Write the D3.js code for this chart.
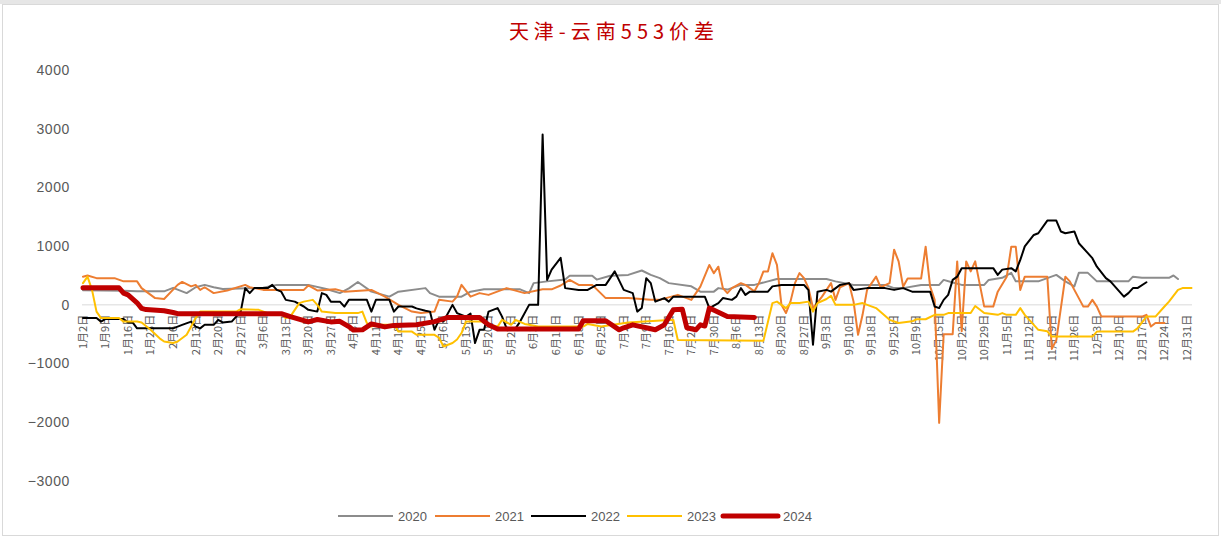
<!DOCTYPE html>
<html>
<head>
<meta charset="utf-8">
<script src="https://cdn.jsdelivr.net/npm/d3@7"></script>
<style>
  body { margin: 0; background: #fff; }
  svg { display: block; }
</style>
</head>
<body>
<div id="chart"></div>
<script>
// x labels: one every 5 trading days
const labels = ["1月2日","1月9日","1月16日","1月23日","2月6日","2月13日","2月20日","2月27日",
  "3月6日","3月13日","3月20日","3月27日","4月3日","4月11日","4月18日","4月25日",
  "5月6日","5月13日","5月20日","5月27日","6月3日","6月11日","6月18日","6月25日",
  "7月2日","7月9日","7月16日","7月23日","7月30日","8月6日","8月13日","8月20日","8月27日",
  "9月3日","9月10日","9月18日","9月25日","10月9日","10月15日","10月22日","10月29日",
  "11月5日","11月12日","11月19日","11月26日","12月3日","12月10日","12月17日","12月24日","12月31日"];

const yTicks = [4000, 3000, 2000, 1000, 0, -1000, -2000, -3000];
const years = ["2020", "2021", "2022", "2023", "2024"];

// [trading day, spread]
const s2020 = [[0,250],[9,240],[12,230],[18,230],[20,290],[23,200],[25,300],[27,340],[29,300],[31,270],
  [40,290],[43,340],[50,340],[54,270],[57,200],[59,280],[61,390],[64,225],[68,140],[70,225],[76,285],
  [77,200],[79,140],[84,140],[86,225],[89,265],[97,265],[99,200],[100,370],[103,400],[107,430],[108,495],
  [113,495],[114,430],[117,495],[121,510],[124,585],[126,510],[128,455],[130,370],[135,315],[137,225],
  [140,225],[141,285],[143,260],[146,340],[149,340],[152,400],[154,440],[165,440],[167,400],[171,340],
  [178,340],[180,285],[182,285],[186,340],[190,340],[191,425],[193,380],[195,340],[200,340],[201,425],
  [204,460],[206,545],[207,400],[212,400],[216,510],[218,400],[220,315],[221,545],[223,545],[225,400],
  [232,400],[233,480],[235,460],[241,460],[242,500],[243,440]];

const s2021 = [[0,480],[1,500],[3,455],[7,455],[9,400],[12,400],[13,285],[16,115],[18,100],[21,340],
  [22,390],[24,315],[25,340],[26,255],[27,300],[29,200],[32,245],[36,340],[37,300],[40,255],[49,255],
  [50,330],[52,245],[56,265],[58,225],[64,255],[67,140],[70,0],[73,-115],[75,-140],[78,-115],[79,85],
  [82,55],[83,140],[84,340],[86,140],[88,200],[90,170],[94,285],[98,200],[102,265],[104,265],[106,330],
  [108,425],[110,340],[113,340],[116,115],[121,115],[126,85],[128,85],[132,170],[135,85],[137,310],
  [139,680],[140,540],[141,650],[142,285],[143,200],[144,285],[146,370],[147,340],[149,230],[150,370],
  [151,570],[152,570],[153,880],[154,680],[155,0],[156,-140],[157,55],[158,370],[159,540],[160,455],
  [161,285],[162,-55],[164,140],[166,370],[167,85],[168,300],[170,370],[171,55],[172,-510],[173,-170],
  [174,255],[176,480],[177,300],[179,370],[180,940],[181,740],[182,310],[183,450],[186,450],[187,990],
  [188,310],[189,85],[190,-2010],[191,-500],[193,-500],[194,740],[195,-450],[196,740],[197,570],[198,740],
  [200,-30],[202,-30],[203,225],[205,480],[206,990],[207,990],[208,255],[209,480],[214,480],[215,-750],
  [216,-600],[218,480],[219,400],[220,255],[222,-30],[223,-30],[224,85],[225,-30],[226,-200],[235,-200],
  [236,-170],[237,-370],[238,-310],[240,-310]];

const s2022 = [[0,-225],[3,-225],[4,-285],[5,-240],[9,-240],[10,-300],[11,-300],[12,-400],[20,-400],
  [22,-340],[24,-285],[25,-370],[26,-400],[27,-340],[29,-340],[30,-255],[31,-300],[33,-285],[34,-200],
  [35,-115],[36,285],[37,200],[38,285],[41,285],[42,340],[43,255],[44,225],[45,85],[47,55],[49,-28],
  [50,-85],[52,-115],[53,200],[54,170],[55,55],[57,55],[58,-30],[59,85],[63,85],[64,-115],[65,85],[68,85],
  [69,-115],[70,-28],[73,-28],[74,-60],[76,-100],[77,-115],[78,-425],[79,-255],[80,-285],[82,0],[83,-140],
  [85,-200],[86,-150],[87,-650],[88,-425],[89,-425],[90,-115],[92,-55],[93,-200],[94,-400],[96,-400],
  [97,-285],[99,0],[101,0],[102,2900],[103,425],[104,600],[106,800],[107,285],[110,255],[112,255],
  [114,340],[116,340],[118,570],[120,255],[122,200],[123,-115],[124,-55],[125,455],[126,370],[127,55],
  [129,115],[130,55],[131,140],[138,140],[139,-55],[141,30],[142,115],[144,85],[145,140],[146,285],
  [147,170],[148,225],[152,225],[153,315],[155,340],[160,340],[161,250],[162,-680],[163,225],[165,255],
  [166,225],[168,340],[170,370],[171,255],[174,285],[178,285],[180,255],[182,285],[184,225],[188,225],
  [189,-28],[190,-55],[191,85],[192,170],[193,425],[194,480],[195,625],[202,625],[203,510],[204,600],
  [206,625],[207,570],[208,765],[209,995],[211,1190],[212,1220],[214,1435],[216,1435],[217,1250],
  [218,1220],[220,1250],[221,1050],[223,880],[224,795],[225,650],[227,455],[228,400],[231,140],[232,200],
  [233,285],[234,285],[236,385]];

const s2023 = [[0,370],[1,480],[2,255],[3,-115],[4,-225],[8,-225],[9,-285],[12,-285],[13,-300],[15,-425],
  [17,-570],[18,-625],[20,-650],[21,-625],[23,-510],[24,-370],[25,-225],[26,-115],[34,-115],[35,-75],
  [39,-85],[41,-140],[44,-140],[45,-225],[46,-200],[47,-85],[48,30],[49,55],[51,85],[52,0],[53,-115],
  [56,-140],[61,-140],[62,-115],[63,-310],[64,-370],[65,-340],[69,-340],[70,-455],[73,-455],[74,-510],
  [78,-510],[79,-560],[80,-710],[82,-650],[83,-590],[84,-480],[85,-285],[89,-285],[90,-340],[92,-370],
  [93,-255],[95,-340],[96,-255],[98,-325],[101,-370],[111,-370],[112,-325],[115,-370],[121,-300],
  [131,-255],[132,-600],[151,-610],[153,30],[154,55],[156,-55],[157,30],[159,30],[161,55],[162,-115],
  [163,30],[165,100],[166,155],[167,0],[171,0],[173,30],[176,-55],[179,-255],[181,-310],[184,-280],
  [185,-245],[187,-245],[189,-170],[191,-170],[192,-140],[197,-140],[198,-20],[200,-140],[203,-170],
  [204,-140],[205,-170],[207,-170],[208,-55],[209,-170],[211,-340],[212,-425],[214,-450],[215,-540],
  [224,-540],[225,-455],[233,-455],[234,-400],[236,-200],[238,-200],[240,-28],[241,55],[243,255],
  [244,285],[246,285]];

const s2024 = [[0,290],[8,290],[9,200],[10,170],[12,35],[13,-60],[14,-80],[18,-100],[20,-130],[21,-150],
  [44,-150],[46,-200],[50,-290],[52,-250],[55,-290],[57,-280],[59,-370],[60,-430],[62,-425],[64,-325],
  [67,-375],[69,-350],[74,-340],[78,-285],[81,-215],[88,-215],[90,-340],[92,-410],[110,-410],[111,-270],
  [116,-270],[119,-425],[120,-390],[122,-340],[125,-390],[127,-425],[129,-340],[131,-85],[133,-75],
  [134,-390],[136,-425],[137,-340],[138,-360],[139,-55],[143,-200],[149,-215]];

const seriesData = [s2020, s2021, s2022, s2023, s2024];
const colors = ["#8c8c8c", "#ed7d31", "#000000", "#ffc000", "#c00000"];
const widths = [2, 2, 2, 2, 5];

const W = 1221, H = 538;

const svg = d3.select("#chart").append("svg")
  .attr("width", W)
  .attr("height", H);

// frame
svg.append("rect").attr("x", 0).attr("y", 0).attr("width", W).attr("height", 4).attr("fill", "#e6e6e6");
svg.append("rect").attr("x", 2.5).attr("y", 4.5).attr("width", W - 5).attr("height", H - 7)
  .attr("fill", "none").attr("stroke", "#d9d9d9");

const x = d3.scaleLinear().domain([0, (labels.length - 1) * 5]).range([83, 1187]);
const y = d3.scaleLinear().domain([-3000, 4000]).range([481, 70]);

// title
svg.append("text")
  .attr("x", 614).attr("y", 39)
  .attr("text-anchor", "middle")
  .style("font-family", "'Noto Sans CJK SC', sans-serif")
  .style("font-size", "20px")
  .style("letter-spacing", "5px")
  .style("fill", "#c00000")
  .text("天津-云南553价差");

// y labels (no axis line)
svg.append("g")
  .selectAll("text")
  .data(yTicks)
  .enter()
  .append("text")
  .attr("x", 70)
  .attr("y", d => y(d))
  .attr("dy", "0.35em")
  .attr("text-anchor", "end")
  .style("font-family", "'Liberation Sans', Arial, sans-serif")
  .style("font-size", "14px")
  .style("letter-spacing", "0.6px")
  .style("fill", "#595959")
  .text(d => d < 0 ? "\u2212" + Math.abs(d) : d);

// zero line
svg.append("line")
  .attr("x1", 82).attr("x2", 1192)
  .attr("y1", y(0)).attr("y2", y(0))
  .attr("stroke", "#d9d9d9").attr("stroke-width", 1);

// x labels, vertical, hanging under the zero line
svg.append("g")
  .selectAll("text")
  .data(labels)
  .enter()
  .append("text")
  .attr("transform", (d, i) => `translate(${x(i * 5)},${y(0) + 10}) rotate(-90)`)
  .attr("dy", "0.35em")
  .attr("text-anchor", "end")
  .style("font-family", "'Noto Sans CJK SC', sans-serif")
  .style("font-size", "11px")
  .style("fill", "#595959")
  .text(d => d);

const line = d3.line()
  .x(d => x(d[0]))
  .y(d => y(d[1]));

seriesData.forEach((s, i) => {
  svg.append("path")
    .datum(s)
    .attr("d", line)
    .attr("fill", "none")
    .attr("stroke", colors[i])
    .attr("stroke-width", widths[i])
    .attr("stroke-linejoin", "round")
    .attr("stroke-linecap", "round");
});

// legend
const legendX = [338, 435, 531, 627, 723];
const legend = svg.append("g");
years.forEach((yr, i) => {
  legend.append("line")
    .attr("x1", legendX[i]).attr("x2", legendX[i] + 55)
    .attr("y1", 516).attr("y2", 516)
    .attr("stroke", colors[i])
    .attr("stroke-width", i === 4 ? 5 : 2)
    .attr("stroke-linecap", i === 4 ? "round" : "butt");
  legend.append("text")
    .attr("x", legendX[i] + 60)
    .attr("y", 516)
    .attr("dy", "0.35em")
    .style("font-family", "'Liberation Sans', Arial, sans-serif")
    .style("font-size", "13px")
    .style("fill", "#595959")
    .text(yr);
});
</script>
</body>
</html>
